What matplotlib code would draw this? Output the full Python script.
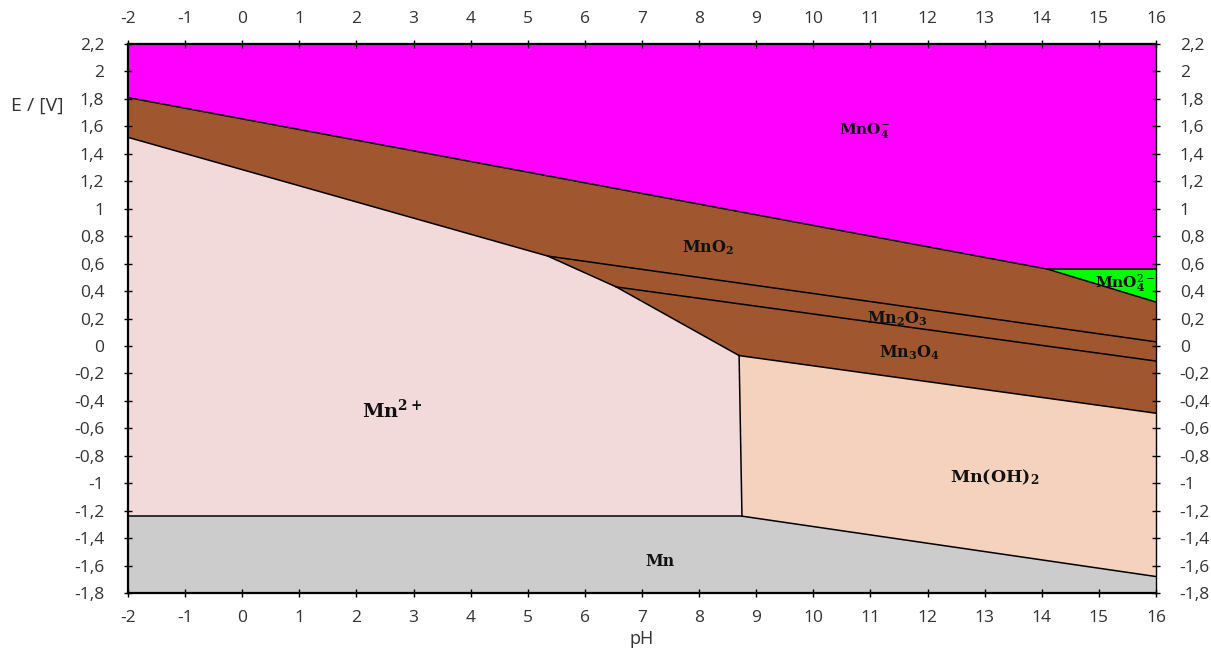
import numpy as np
import matplotlib.pyplot as plt
from matplotlib.ticker import FuncFormatter

plt.rcParams['axes.unicode_minus'] = False
plt.rcParams['mathtext.fontset'] = 'dejavuserif'

# Key points of the Pourbaix diagram (pH, E in V)
ph_min, ph_max = -2, 16
e_min, e_max = -1.8, 2.2

pt_a = (-2, 1.81)     # MnO4- / MnO2 at left edge
pt_b = (14.1, 0.56)   # MnO4- / MnO4 2- / MnO2
pt_c = (16, 0.56)
pt_d = (16, 0.32)
pt_e = (-2, 1.52)     # MnO2 / Mn2+ at left edge
pt_f = (5.35, 0.655)  # MnO2 / Mn2O3 / Mn2+
pt_g = (16, 0.03)
pt_h = (6.55, 0.43)   # Mn2O3 / Mn3O4 / Mn2+
pt_i = (16, -0.11)
pt_j = (8.7, -0.07)   # Mn3O4 / Mn2+ / Mn(OH)2
pt_k = (16, -0.49)
pt_l = (8.75, -1.24)  # Mn2+ / Mn(OH)2 / Mn
pt_m = (-2, -1.24)
pt_n = (16, -1.68)

# Region labels: text, pH, E
labels = ["MnO$_\\mathbf{4}^{-}$", "MnO$_\\mathbf{2}$", "MnO$_\\mathbf{4}^{2-}$",
          "Mn$_\\mathbf{2}$O$_\\mathbf{3}$", "Mn$_\\mathbf{3}$O$_\\mathbf{4}$",
          "Mn$^\\mathbf{2+}$", "Mn(OH)$_\\mathbf{2}$", "Mn"]
label_ph = [10.9, 8.16, 15.45, 11.48, 11.69, 2.62, 13.18, 7.32]
label_e = [1.57, 0.72, 0.46, 0.20, -0.05, -0.47, -0.955, -1.57]
label_size = [11, 11.5, 11, 11.5, 11.5, 14, 12.5, 11.5]

regions = {
    "MnO4-": ([(ph_min, e_max), (ph_max, e_max), pt_c, pt_b, pt_a], "#ff00ff"),
    "MnO4 2-": ([pt_b, pt_c, pt_d], "#00ff00"),
    "MnO2": ([pt_a, pt_b, pt_d, pt_k, pt_j, pt_h, pt_f, pt_e], "#a0572f"),
    "Mn2+": ([pt_e, pt_f, pt_h, pt_j, pt_l, pt_m], "#f3dada"),
    "Mn(OH)2": ([pt_j, pt_k, pt_n, pt_l], "#f4d2be"),
    "Mn": ([pt_m, pt_l, pt_n, (ph_max, e_min), (ph_min, e_min)], "#cccccc"),
}

boundaries = [(pt_a, pt_b), (pt_b, pt_c), (pt_b, pt_d), (pt_e, pt_f), (pt_f, pt_g),
              (pt_f, pt_h), (pt_h, pt_i), (pt_h, pt_j), (pt_j, pt_k), (pt_j, pt_l),
              (pt_m, pt_l), (pt_l, pt_n)]

fig = plt.figure(figsize=(12.11, 6.62), dpi=100)
ax = fig.add_axes([0.1057, 0.1042, 0.8489, 0.8293])

for name, (poly, color) in regions.items():
    xs, ys = zip(*poly)
    ax.fill(xs, ys, color=color, lw=0, zorder=1)

for p, q in boundaries:
    ax.plot([p[0], q[0]], [p[1], q[1]], color="black", lw=1.1, zorder=2)

for txt, x, y, s in zip(labels, label_ph, label_e, label_size):
    ax.text(x, y, txt, ha="center", va="center", fontsize=s, fontweight="bold",
            family="DejaVu Serif", color="#111111", zorder=3)


def comma_fmt(v, pos):
    v = round(v, 1)
    if v == 0:
        return "0"
    return ("%g" % v).replace(".", ",")


ax.set_xlim(ph_min, ph_max)
ax.set_ylim(e_min, e_max)
ax.set_xticks(np.arange(-2, 17, 1))
ax.set_yticks(np.round(np.arange(-1.8, 2.21, 0.2), 1))
ax.yaxis.set_major_formatter(FuncFormatter(comma_fmt))

ax.tick_params(axis="both", which="both", direction="inout", length=6, width=1,
               labelsize=12.5, labelcolor="#333333", top=True, right=True,
               labeltop=True, labelright=True)
ax.tick_params(axis="x", pad=9)
ax.tick_params(axis="y", pad=14)
for lab in ax.get_xticklabels() + ax.get_yticklabels():
    lab.set_family("Open Sans")

for side in ["left", "bottom", "top"]:
    ax.spines[side].set_linewidth(1.6)
ax.spines["right"].set_linewidth(1.0)

ax.set_xlabel("pH", fontsize=13, family="Open Sans", color="#333333", labelpad=3)
fig.text(0.031, 0.84, "E / [V]", fontsize=14, family="Open Sans", color="#333333",
         ha="center", va="center")

fig.savefig("out.png", dpi=100)
